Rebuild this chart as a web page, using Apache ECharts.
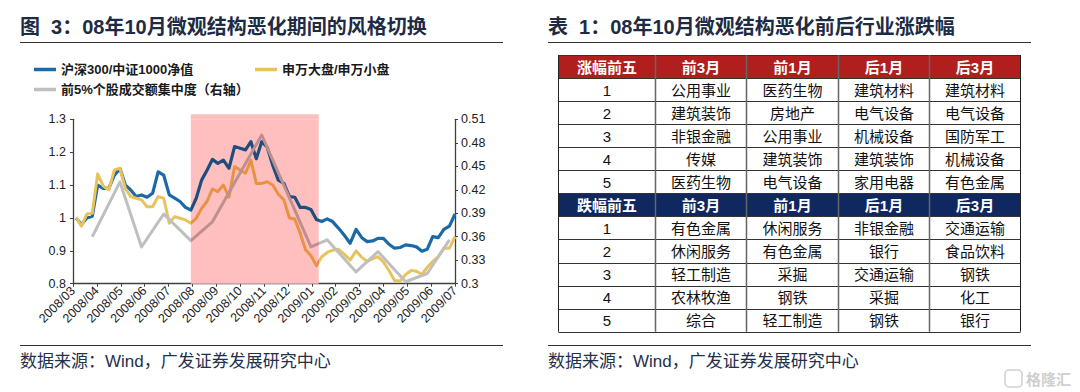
<!DOCTYPE html>
<html><head><meta charset="utf-8">
<script src="https://cdn.jsdelivr.net/npm/echarts@6/dist/echarts.min.js"></script>
<style>html,body{margin:0;padding:0;background:#fff}#c{width:1080px;height:392px}</style>
</head><body><div id="c"></div>
<script>
// ---------- data ----------
const monthLabels = ['2008/03','2008/04','2008/05','2008/06','2008/07','2008/08','2008/09','2008/10','2008/11','2008/12','2009/01','2009/02','2009/03','2009/04','2009/05','2009/06','2009/07'];
const startDate = '2008-03-05';
const weekCount = 70;
const hs300ToCsi1000 = [1.0,0.98,1.0,1.005,1.10,1.09,1.09,1.13,1.15,1.10,
 1.085,1.065,1.07,1.063,1.075,1.14,1.13,1.07,1.06,1.05,
 1.032,1.024,1.06,1.115,1.145,1.178,1.166,1.176,1.151,1.217,
 1.212,1.207,1.232,1.18,1.232,1.215,1.16,1.115,1.105,1.065,
 1.063,1.032,1.032,1.026,0.995,0.989,0.997,0.989,0.97,0.948,
 0.923,0.965,0.94,0.928,0.93,0.938,0.938,0.92,0.908,0.91,
 0.918,0.916,0.912,0.899,0.905,0.943,0.94,0.965,0.975,1.012];
const swLargeToSmall = [1.002,0.975,1.012,1.014,1.134,1.097,1.085,1.146,1.151,1.09,
 1.065,1.06,1.055,1.034,1.034,1.065,1.06,0.984,1.004,0.999,
 0.994,0.984,0.999,1.029,1.05,1.088,1.08,1.10,1.063,1.156,
 1.146,1.136,1.176,1.105,1.105,1.11,1.10,1.072,1.055,1.0,
 0.997,0.953,0.903,0.885,0.855,0.882,0.895,0.902,0.905,0.89,
 0.872,0.9,0.88,0.868,0.876,0.882,0.866,0.84,0.81,0.808,
 0.828,0.84,0.838,0.828,0.85,0.867,0.882,0.908,0.908,0.943];
const concDates = ['2008-03-26','2008-04-30','2008-05-28','2008-06-25','2008-07-30','2008-08-27','2008-10-29','2008-12-31','2009-01-21','2009-02-25','2009-03-25','2009-04-29','2009-05-27','2009-06-24'];
const top5Concentration = [0.36,0.43,0.347,0.389,0.355,0.379,0.49,0.347,0.356,0.315,0.341,0.3025,0.313,0.356];
const shadeRange = ['2008-07-30','2009-01-10'];
const seriesNames = ['沪深300/中证1000净值','申万大盘/申万小盘','前5%个股成交额集中度（右轴）'];

const upHeader = ['涨幅前五','前3月','前1月','后1月','后3月'];
const upRows = [
  ['1','公用事业','医药生物','建筑材料','建筑材料'],
  ['2','建筑装饰','房地产','电气设备','电气设备'],
  ['3','非银金融','公用事业','机械设备','国防军工'],
  ['4','传媒','建筑装饰','建筑装饰','机械设备'],
  ['5','医药生物','电气设备','家用电器','有色金属']
];
const downHeader = ['跌幅前五','前3月','前1月','后1月','后3月'];
const downRows = [
  ['1','有色金属','休闲服务','非银金融','交通运输'],
  ['2','休闲服务','有色金属','银行','食品饮料'],
  ['3','轻工制造','采掘','交通运输','钢铁'],
  ['4','农林牧渔','钢铁','采掘','化工'],
  ['5','综合','轻工制造','钢铁','银行']
];

// ---------- helpers ----------
function addDays(s, n){ const d = new Date(s+'T00:00:00Z'); d.setUTCDate(d.getUTCDate()+n); return d.toISOString().slice(0,10); }
const weekDates = Array.from({length: weekCount}, (_, i) => addDays(startDate, 7*i));
function monthPos(s){ const p = s.split('-').map(Number); const dim = new Date(Date.UTC(p[0], p[1], 0)).getUTCDate(); return (p[0]-2008)*12 + (p[1]-3) + (p[2]-1)/dim; }

const shadeStart = monthPos(shadeRange[0]), shadeEnd = monthPos(shadeRange[1]);
const FONT = '"Liberation Sans","Noto Sans CJK SC",sans-serif';
const cBlue = '#1b69a7', cBlueD = '#1f4e7e';
const cYel = '#e8c35c', cYelD = '#e89245';
const cGray = '#bfbfbf', cGrayD = '#bf8f8f';
const cShade = '#ffbfbf';

function vm(idx, c, cd){
  return {type:'piecewise', show:false, seriesIndex: idx, dimension: 0,
    pieces:[{lt: shadeStart, color: c},{gte: shadeStart, lte: shadeEnd, color: cd},{gt: shadeEnd, color: c}]};
}

// ---------- table graphics ----------
const colX = [558.5, 655.5, 746.5, 838.5, 929.5, 1020.5];
const tTop = 55, rowH = 23.06;
const g = [];
const allRows = [upHeader].concat(upRows).concat([downHeader]).concat(downRows);
allRows.forEach((row, r) => {
  const y0 = tTop + r*rowH;
  const isHead = (r === 0 || r === 6);
  if (isHead) g.push({type:'rect', shape:{x: colX[0], y: y0, width: colX[5]-colX[0], height: rowH}, style:{fill: r===0 ? '#b01f1d' : '#0f2860'}, silent:true});
  row.forEach((txt, c) => {
    g.push({type:'text', x:(colX[c]+colX[c+1])/2, y: y0 + rowH/2 + 0.5, silent:true,
      style:{text: txt, fill: isHead ? '#ffffff' : '#111111', font: (isHead ? 'bold ' : '') + '15px ' + FONT, align:'center', verticalAlign:'middle'}});
  });
});
for (let r = 0; r <= allRows.length; r++) {
  const y = Math.round(tTop + r*rowH) + 0.5;
  g.push({type:'line', silent:true, shape:{x1: colX[0], y1: y, x2: colX[5], y2: y}, style:{stroke:'#333', lineWidth:1}});
}
colX.forEach((x, i) => {
  g.push({type:'line', silent:true, shape:{x1: x, y1: tTop, x2: x, y2: tTop + allRows.length*rowH}, style:{stroke: (i===0||i===5) ? '#222' : '#666', lineWidth: (i===0||i===5) ? 1 : 1.5}});
});
// titles, rules, sources
const titleFont = 'bold 20px ' + FONT;
g.push({type:'text', x:20, y:27, silent:true, style:{text:'图  3：08年10月微观结构恶化期间的风格切换', fill:'#1e2b45', font: titleFont, verticalAlign:'middle'}});
g.push({type:'text', x:548, y:27, silent:true, style:{text:'表  1：08年10月微观结构恶化前后行业涨跌幅', fill:'#1e2b45', font: titleFont, verticalAlign:'middle'}});
[[20,503],[548,1031]].forEach(([a,b]) => {
  g.push({type:'line', silent:true, shape:{x1:a, y1:42.5, x2:b, y2:42.5}, style:{stroke:'#333', lineWidth:1.2}});
  g.push({type:'line', silent:true, shape:{x1:a, y1:345.5, x2:b, y2:345.5}, style:{stroke:'#333', lineWidth:1.2}});
  g.push({type:'text', x:a, y:361, silent:true, style:{text:'数据来源：Wind，广发证券发展研究中心', fill:'#22304d', font:'17px ' + FONT, verticalAlign:'middle'}});
});
g.push({type:'rect', silent:true, shape:{x:1005, y:370, width:17, height:17, r:4}, style:{fill:'none', stroke:'#cfcfcf', lineWidth:1.5}});
g.push({type:'text', x:1026, y:379, silent:true, style:{text:'格隆汇', fill:'#cfcfcf', font:'bold 15px ' + FONT, verticalAlign:'middle'}});

// ---------- chart ----------
const chart = echarts.init(document.getElementById('c'), null, {renderer:'svg', width:1080, height:392});
const axisCol = '#404040';
const legendBase = {icon:'rect', itemWidth:22, itemHeight:3.5, textStyle:{fontSize:13, fontWeight:'bold', color:'#1a1a1a', fontFamily: FONT}, selectedMode:false, padding:0};
chart.setOption({
  animation:false,
  textStyle:{fontFamily: FONT},
  grid:{left:73, right:625, top:119.3, bottom:108.3, containLabel:false, outerBoundsMode:'none'},
  legend:[
    Object.assign({}, legendBase, {left:34, top:63, data:[{name:seriesNames[0], itemStyle:{color:cBlue}}]}),
    Object.assign({}, legendBase, {left:255, top:63, data:[{name:seriesNames[1], itemStyle:{color:cYel}}]}),
    Object.assign({}, legendBase, {left:34, top:83, data:[{name:seriesNames[2], itemStyle:{color:cGray}}]})
  ],
  xAxis:{type:'value', min:0, max:16, interval:1,
    axisLine:{show:true, onZero:false, lineStyle:{color:axisCol, width:1.3}},
    axisTick:{show:true, length:3, lineStyle:{color:axisCol}},
    splitLine:{show:false},
    axisLabel:{rotate:45, fontSize:12.5, color:'#222', margin:5, fontFamily: FONT, formatter: v => monthLabels[Math.round(v)] || ''}},
  yAxis:[
    {type:'value', min:0.8, max:1.3, interval:0.1,
      axisLine:{show:true, lineStyle:{color:axisCol, width:1.3}}, axisTick:{show:true, length:3, lineStyle:{color:axisCol}},
      splitLine:{show:false}, axisLabel:{fontSize:12.5, color:'#222', margin:7, fontFamily: FONT}},
    {type:'value', position:'right', min:0.3, max:0.51, interval:0.03,
      axisLine:{show:true, lineStyle:{color:axisCol, width:1.3}}, axisTick:{show:true, length:3, lineStyle:{color:axisCol}},
      splitLine:{show:false}, axisLabel:{fontSize:12.5, color:'#222', margin:6, fontFamily: FONT}}
  ],
  visualMap:[vm(1, cBlue, cBlueD), vm(2, cYel, cYelD), vm(3, cGray, cGrayD)],
  series:[
    {type:'line', name:'shade', data:[], z:1, clip:false, silent:true,
      markArea:{silent:true, itemStyle:{color:cShade}, data:[[{xAxis: shadeStart, yAxis: 'max'},{xAxis: shadeEnd, yAxis: 'min'}]]}},
    {type:'line', name:seriesNames[0], z:2, showSymbol:false, symbol:'none',
      lineStyle:{width:3.2, join:'round'}, data: weekDates.map((d,i) => [monthPos(d), hs300ToCsi1000[i]])},
    {type:'line', name:seriesNames[1], z:3, showSymbol:false, symbol:'none',
      lineStyle:{width:3, join:'round'}, data: weekDates.map((d,i) => [monthPos(d), swLargeToSmall[i]])},
    {type:'line', name:seriesNames[2], z:4, yAxisIndex:1, showSymbol:false, symbol:'none',
      lineStyle:{width:3, join:'round'}, data: concDates.map((d,i) => [monthPos(d), top5Concentration[i]])}
  ]
});
// shaded band continues a few pixels above the plot top, as in the reference
const pA = chart.convertToPixel({gridIndex:0}, [shadeStart, 1.3]);
const pB = chart.convertToPixel({gridIndex:0}, [shadeEnd, 1.3]);
g.push({type:'rect', silent:true, z:0, shape:{x:pA[0], y:pA[1]-5, width:pB[0]-pA[0], height:5}, style:{fill:cShade}});
chart.setOption({graphic: g});
</script></body></html>
